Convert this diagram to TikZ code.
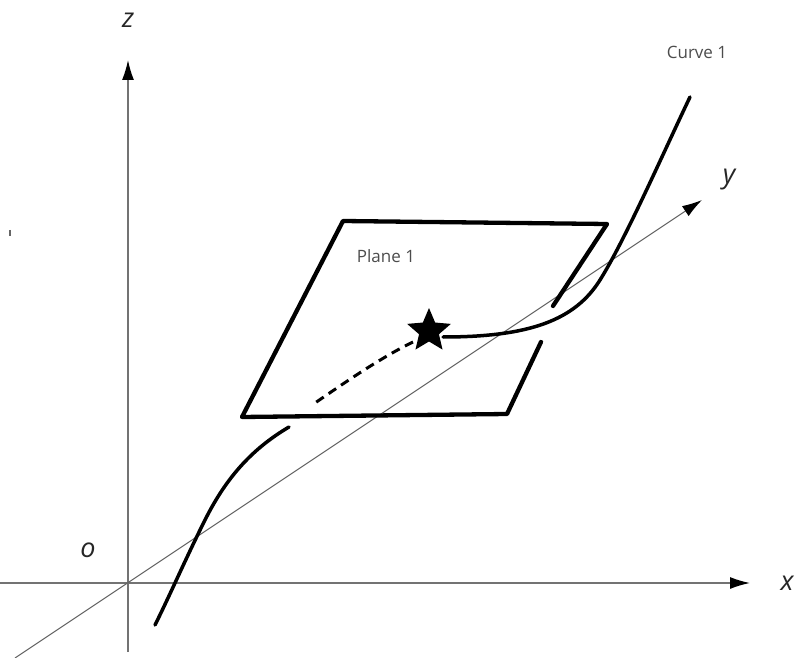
\documentclass[tikz,border=0pt]{standalone}
\usepackage{fontspec}
\setmainfont{Open Sans}
\usetikzlibrary{arrows.meta,shapes.geometric}
\begin{document}
\begin{tikzpicture}[x=1pt,y=-1pt,
  axis/.style={draw=black!55,line width=1.4pt,-{Latex[length=20pt,width=12pt,color=black]}},
  yaxis/.style={draw=black!60,line width=1.1pt,-{Latex[length=20pt,width=12pt,color=black]}},
  planeedge/.style={line width=4.3pt,line cap=round,line join=round},
  curveline/.style={line width=3.5pt,line cap=round},
  axlabel/.style={font=\fontsize{27}{30}\selectfont\itshape,text=black!85,inner sep=0pt},
  smalllabel/.style={font=\fontsize{17}{20}\selectfont,text=black!70,inner sep=0pt}]
\useasboundingbox (0,0) rectangle (796,658);
% axes
\coordinate (O) at (128,583);
\coordinate (zb) at (128,652);
\coordinate (zt) at (128,60);
\coordinate (xl) at (0,583);
\coordinate (xr) at (750,583);
\coordinate (yl) at (15,658);
\coordinate (yr) at (702,200);
\draw[axis] (zb) -- (zt);
\draw[axis] (xl) -- (xr);
\draw[yaxis] (yl) -- (yr);
\node[axlabel] (lz) at (128,20) {z};
\node[axlabel] (lx) at (787,583) {x};
\node[axlabel] (ly) at (729,180) {y};
\node[axlabel] (lo) at (88,550) {o};
% stray mark
\draw[black!60,line width=1.5pt] (10,230) -- (10,236);
% plane
\coordinate (p1) at (343,221);
\coordinate (p2) at (607,224);
\coordinate (p3) at (553,306);
\coordinate (p4) at (541,342);
\coordinate (p5) at (507,414);
\coordinate (p6) at (242,417);
\draw[planeedge] (p3) -- (p2) -- (p1) -- (p6) -- (p5) -- (p4);
\node[smalllabel] (lplane) at (386,256) {Plane 1};
% star
\node[star,star points=5,star point ratio=2.2,fill=black,minimum size=46pt,inner sep=0pt] (st) at (429,331) {};
% curve
\coordinate (ce) at (443,337);
\coordinate (ctop) at (690,97);
\draw[curveline] (ce) .. controls (530,337) and (575,320) .. (600,280) .. controls (625,240) and (660,160) .. (ctop);
\node[smalllabel] (lcurve) at (697,52) {Curve 1};
\coordinate (ds) at (413,342);
\coordinate (de) at (315,403);
\draw[line width=3pt,dash pattern=on 9pt off 6pt] (ds) .. controls (382,357) and (347,381) .. (de);
\coordinate (lc1) at (289,427);
\coordinate (lc2) at (155,625);
\draw[curveline] (lc1) .. controls (250,450) and (225,480) .. (205,520) .. controls (185,560) and (170,595) .. (lc2);
\end{tikzpicture}
\end{document}
